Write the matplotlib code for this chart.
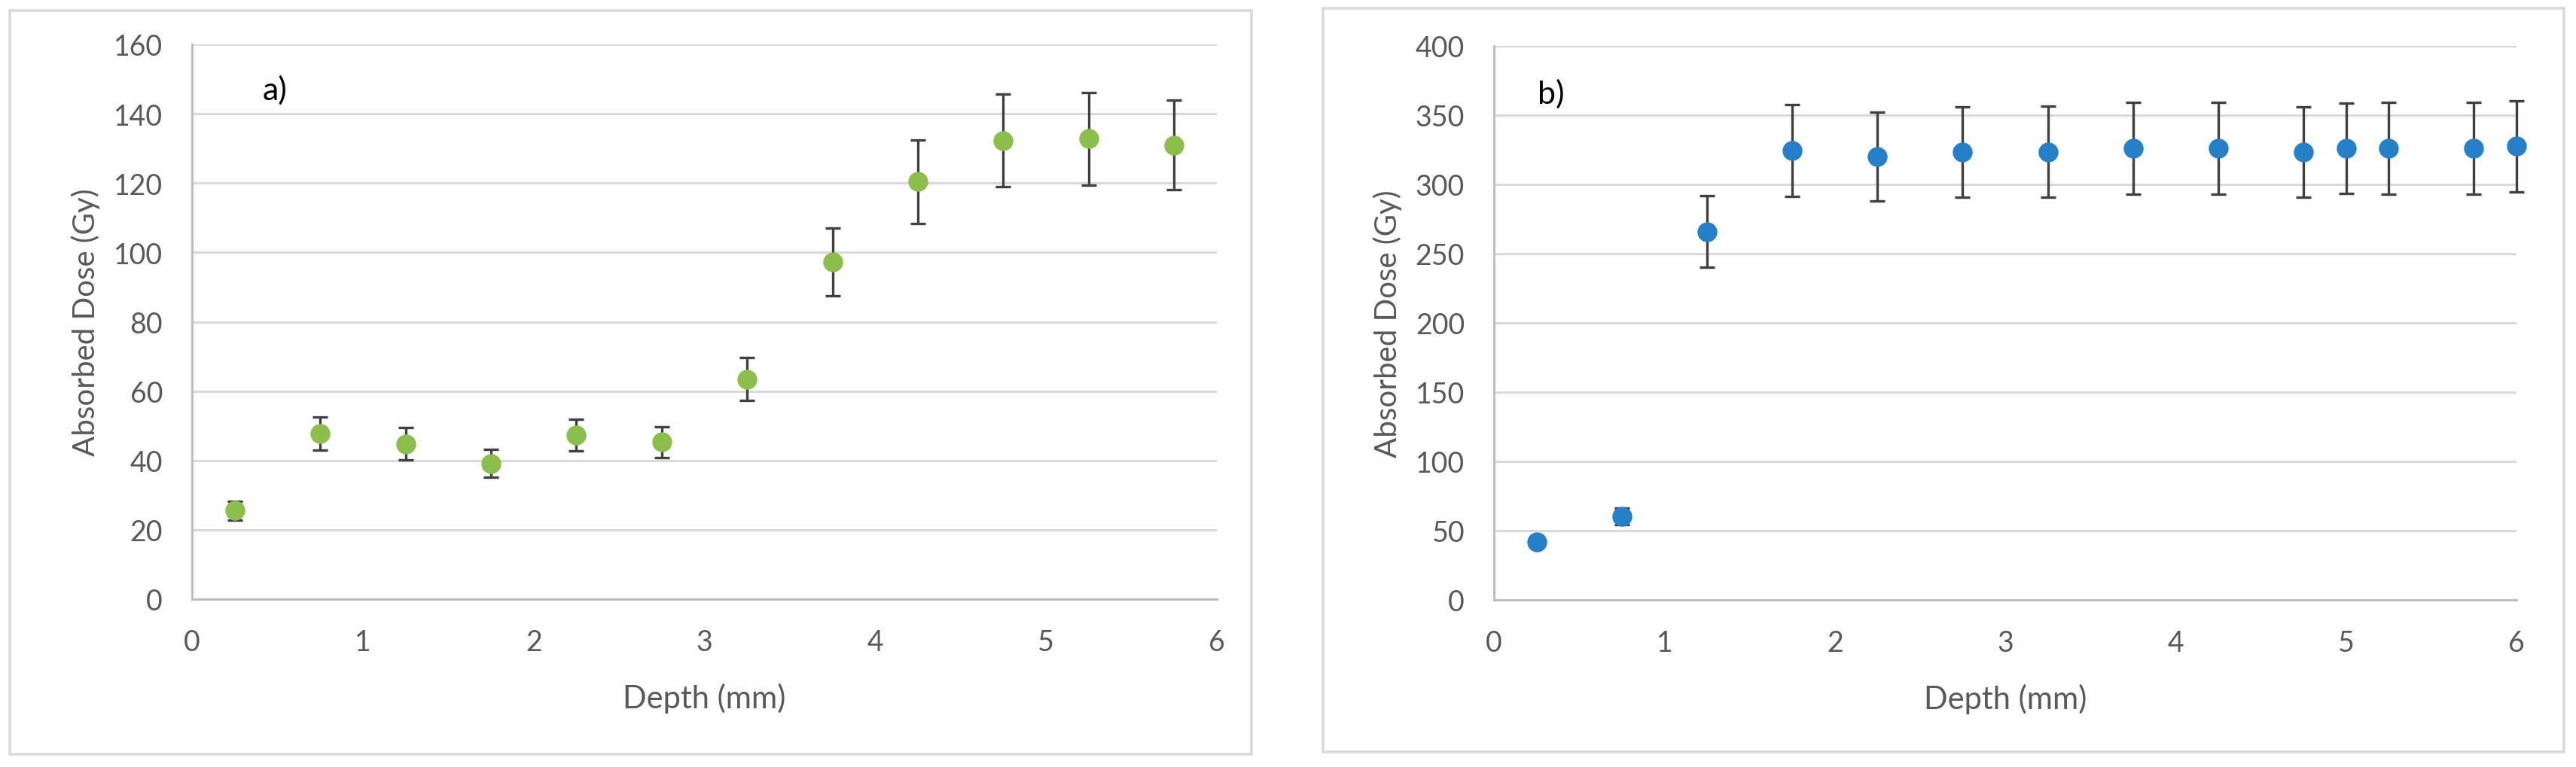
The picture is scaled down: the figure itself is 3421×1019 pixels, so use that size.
"""
Absorbed dose vs depth, two panels (a: green, b: blue) with error bars,
styled like the original Excel charts.
"""
import matplotlib
matplotlib.use("Agg")
import matplotlib.pyplot as plt
from matplotlib.patches import Rectangle

# ---- data ----
depth_a = [0.25, 0.75, 1.25, 1.75, 2.25, 2.75, 3.25, 3.75, 4.25, 4.75, 5.25, 5.75]
dose_a = [25.6, 47.7, 44.8, 39.1, 47.3, 45.3, 63.5, 97.2, 120.4, 132.3, 132.8, 131.0]
err_a = [2.7, 4.8, 4.6, 4.0, 4.6, 4.5, 6.2, 9.8, 12.1, 13.4, 13.3, 13.0]

depth_b = [0.25, 0.75, 1.25, 1.75, 2.25, 2.75, 3.25, 3.75, 4.25, 4.75, 5.0, 5.25, 5.75, 6.0]
dose_b = [42.0, 60.5, 266.0, 324.5, 320.0, 323.5, 323.5, 326.0, 326.0, 323.5, 326.0, 326.0, 326.0, 327.5]
err_b = [3.0, 6.0, 26.0, 33.0, 32.0, 32.5, 33.0, 33.0, 33.0, 32.5, 32.5, 33.0, 33.0, 33.0]

x_ticks = [0, 1, 2, 3, 4, 5, 6]
y_ticks_a = [0, 20, 40, 60, 80, 100, 120, 140, 160]
y_ticks_b = [0, 50, 100, 150, 200, 250, 300, 350, 400]

GREEN = "#8BBE4B"
BLUE = "#2580C7"
ERR_COLOR = "#404040"
GRID = "#D9D9D9"
AXIS = "#BFBFBF"
TEXT = "#595959"

W, H = 3421, 1020
plt.rcParams["font.family"] = ["Lato", "DejaVu Sans"]

fig = plt.figure(figsize=(W / 100, H / 100), dpi=100)


def px_rect(x0, y0, x1, y1):
    """pixel box (top-left origin) -> figure-fraction rect"""
    return [x0 / W, 1 - y1 / H, (x1 - x0) / W, (y1 - y0) / H]


def draw_panel(rect, x, y, err, color, yticks, tag):
    ax = fig.add_axes(rect)
    ax.errorbar(x, y, yerr=err, fmt="none", ecolor=ERR_COLOR, elinewidth=2.4,
                capsize=7, capthick=2.4, zorder=3, clip_on=False)
    ax.plot(x, y, "o", color=color, markersize=19, markeredgewidth=0,
            zorder=4, clip_on=False)

    ax.set_xlim(0, 6)
    ax.set_ylim(yticks[0], yticks[-1])
    ax.set_xticks(x_ticks)
    ax.set_yticks(yticks)
    ax.grid(axis="y", color=GRID, linewidth=2.2, zorder=0)
    ax.set_axisbelow(True)

    for side in ["top", "right"]:
        ax.spines[side].set_visible(False)
    for side in ["left", "bottom"]:
        ax.spines[side].set_color(AXIS)
        ax.spines[side].set_linewidth(2.2)

    ax.tick_params(length=0, labelsize=27, labelcolor=TEXT, pad=28)
    ax.set_xlabel("Depth (mm)", fontsize=30, color=TEXT)
    ax.set_ylabel("Absorbed Dose (Gy)", fontsize=29, color=TEXT)
    ax.xaxis.set_label_coords(0.5, -0.15)
    ax.yaxis.set_label_coords(-0.09, 0.5)

    ax.text(tag[1], tag[2], tag[0], transform=ax.transAxes, fontsize=31,
            color="black", ha="center", va="center")
    return ax


# outer chart-area frames
for box in [(13, 15, 1662, 1003), (1757, 12, 3405, 1000)]:
    r = px_rect(*box)
    fig.patches.append(Rectangle((r[0], r[1]), r[2], r[3], transform=fig.transFigure,
                                 fill=False, edgecolor=GRID, linewidth=2.6))

draw_panel(px_rect(255, 60, 1616, 797), depth_a, dose_a, err_a, GREEN,
           y_ticks_a, ("a)", 0.081, 0.918))
draw_panel(px_rect(1984, 62, 3342, 798), depth_b, dose_b, err_b, BLUE,
           y_ticks_b, ("b)", 0.056, 0.915))

fig.savefig("out.png", dpi=100, facecolor="white")
plt.close(fig)
